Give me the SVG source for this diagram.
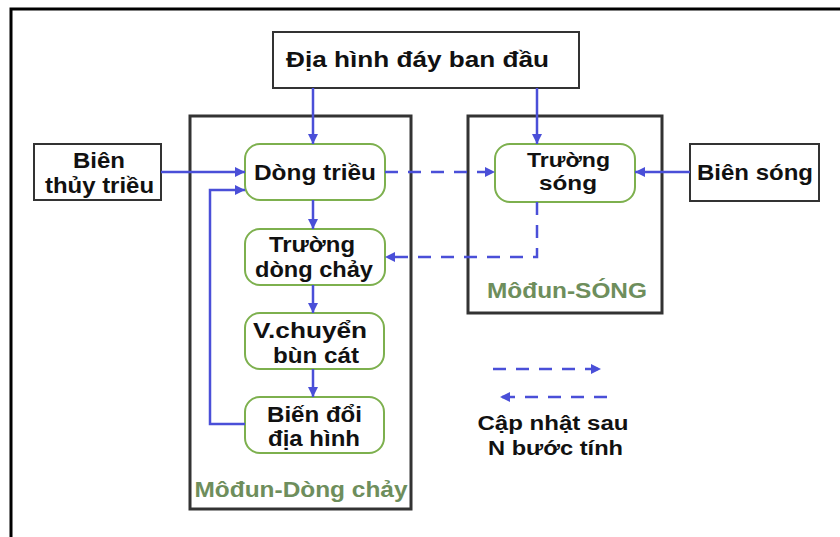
<svg xmlns="http://www.w3.org/2000/svg" width="840" height="537" viewBox="0 0 840 537">
<style>
.box{fill:#fff;stroke:#333;stroke-width:2}
.mod{fill:none;stroke:#333;stroke-width:3}
.node{fill:#fff;stroke:#7db04e;stroke-width:2}
.t{font-family:"Liberation Sans",Arial,sans-serif;font-weight:bold;font-size:22px;fill:#111;text-anchor:middle}
.s{font-size:20px}
.g{font-family:"Liberation Sans",Arial,sans-serif;font-weight:bold;font-size:22px;fill:#6e8e5c;text-anchor:middle}
.c{fill:none;stroke:#4a4fd8;stroke-width:2.5}
.d{fill:none;stroke:#4a4fd8;stroke-width:2.5;stroke-dasharray:13 10}
</style>
<defs>
<marker id="ah" markerUnits="userSpaceOnUse" markerWidth="11" markerHeight="11" refX="10" refY="5" orient="auto">
<path d="M0,0 L10,5 L0,10 z" fill="#4a4fd8"/>
</marker>
</defs>
<rect width="840" height="537" fill="#fff"/>
<path d="M11,537 V9 H840" fill="none" stroke="#000" stroke-width="3"/>

<g id="module-dong-chay">
<rect class="mod" x="190" y="116" width="221" height="393"/>
<text class="g" x="301" y="497" textLength="213" lengthAdjust="spacingAndGlyphs">Môđun-Dòng chảy</text>
</g>
<g id="module-song">
<rect class="mod" x="468" y="116" width="194" height="197"/>
<text class="g" x="567" y="298" textLength="160" lengthAdjust="spacingAndGlyphs">Môđun-SÓNG</text>
</g>

<g id="dia-hinh">
<rect class="box" x="273" y="32" width="306" height="56"/>
<text class="t" x="417.5" y="67" textLength="263" lengthAdjust="spacingAndGlyphs">Địa hình đáy ban đầu</text>
</g>
<g id="bien-thuy-trieu">
<rect class="box" x="34" y="144" width="127" height="56"/>
<text class="t" x="99" y="168" textLength="52" lengthAdjust="spacingAndGlyphs">Biên</text>
<text class="t" x="99.5" y="193" textLength="109" lengthAdjust="spacingAndGlyphs">thủy triều</text>
</g>
<g id="bien-song">
<rect class="box" x="690" y="144" width="129" height="57"/>
<text class="t" x="755" y="180" textLength="116" lengthAdjust="spacingAndGlyphs">Biên sóng</text>
</g>

<g id="dong-trieu">
<rect class="node" x="245" y="144" width="140" height="56" rx="15"/>
<text class="t" x="315" y="180" textLength="122" lengthAdjust="spacingAndGlyphs">Dòng triều</text>
</g>
<g id="truong-dong-chay">
<rect class="node" x="245" y="229" width="140" height="56" rx="15"/>
<text class="t" x="312" y="252" textLength="86" lengthAdjust="spacingAndGlyphs">Trường</text>
<text class="t" x="314" y="277" textLength="118" lengthAdjust="spacingAndGlyphs">dòng chảy</text>
</g>
<g id="van-chuyen">
<rect class="node" x="245" y="313" width="139" height="56" rx="15"/>
<text class="t" x="310" y="338" textLength="114" lengthAdjust="spacingAndGlyphs">V.chuyển</text>
<text class="t" x="316" y="363" textLength="86" lengthAdjust="spacingAndGlyphs">bùn cát</text>
</g>
<g id="bien-doi">
<rect class="node" x="245" y="397" width="139" height="56" rx="15"/>
<text class="t" x="314.5" y="422" textLength="95" lengthAdjust="spacingAndGlyphs">Biến đổi</text>
<text class="t" x="314" y="446" textLength="92" lengthAdjust="spacingAndGlyphs">địa hình</text>
</g>
<g id="truong-song">
<rect class="node" x="495" y="144" width="140" height="58" rx="15"/>
<text class="t s" x="568.5" y="167" textLength="83" lengthAdjust="spacingAndGlyphs">Trường</text>
<text class="t s" x="568" y="190" textLength="58" lengthAdjust="spacingAndGlyphs">sóng</text>
</g>

<g id="legend">
<text class="t s" x="553" y="430" textLength="151" lengthAdjust="spacingAndGlyphs">Cập nhật sau</text>
<text class="t s" x="555.5" y="455" textLength="135" lengthAdjust="spacingAndGlyphs">N bước tính</text>
</g>

<g id="connectors">
<path class="c" d="M313,88 V144" marker-end="url(#ah)"/>
<path class="c" d="M537,88 V144" marker-end="url(#ah)"/>
<path class="c" d="M161,172 H245" marker-end="url(#ah)"/>
<path class="c" d="M690,172 H635" marker-end="url(#ah)"/>
<path class="c" d="M313,200 V229" marker-end="url(#ah)"/>
<path class="c" d="M313,285 V313" marker-end="url(#ah)"/>
<path class="c" d="M313,369 V397" marker-end="url(#ah)"/>
<path class="c" d="M245,424 H210 V190 H245" marker-end="url(#ah)"/>
<path class="d" d="M385,172 H495" marker-end="url(#ah)"/>
<path class="d" d="M537,202 V257 H385" marker-end="url(#ah)"/>
<path class="d" d="M493,369 H601" marker-end="url(#ah)"/>
<path class="d" d="M607,397 H500" marker-end="url(#ah)"/>
</g>
</svg>
